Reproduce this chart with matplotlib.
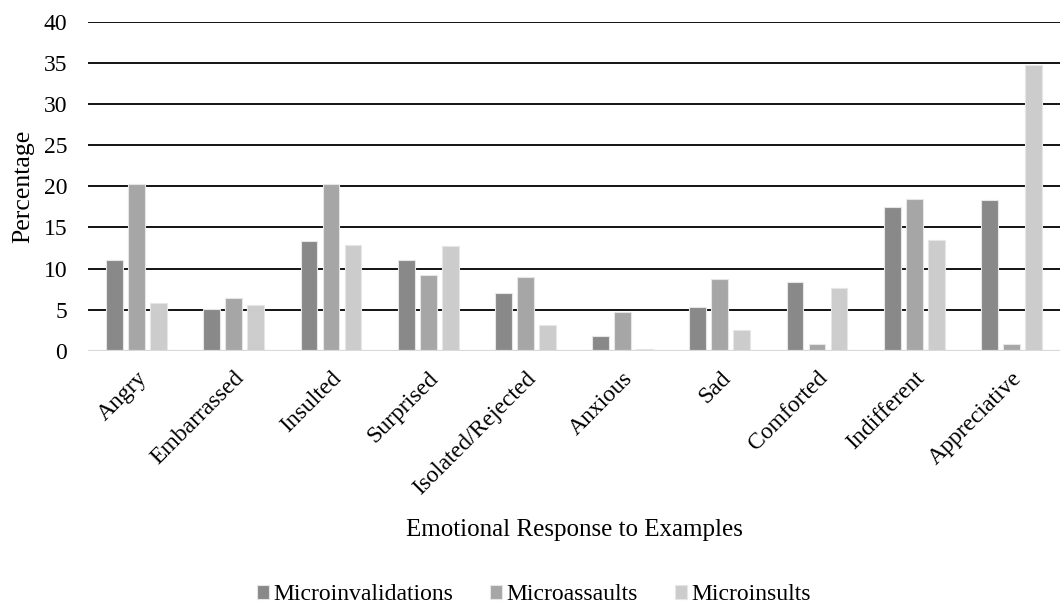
import matplotlib.pyplot as plt
import numpy as np

plt.rcParams['font.family'] = ['Liberation Serif', 'DejaVu Serif']

categories = ['Angry', 'Embarrassed', 'Insulted', 'Surprised', 'Isolated/Rejected',
              'Anxious', 'Sad', 'Comforted', 'Indifferent', 'Appreciative']
microinvalidations = [11.1, 5.1, 13.4, 11.1, 7.0, 1.8, 5.4, 8.4, 17.5, 18.3]
microassaults = [20.3, 6.4, 20.3, 9.2, 9.0, 4.7, 8.8, 0.9, 18.5, 0.9]
microinsults = [5.8, 5.6, 12.9, 12.7, 3.2, 0.3, 2.6, 7.7, 13.5, 34.7]
series_names = ['Microinvalidations', 'Microassaults', 'Microinsults']
colors = ['#898989', '#a6a6a6', '#cccccc']

fig = plt.figure(figsize=(10.61, 6.14), dpi=100)
ax = fig.add_axes([88 / 1061, 1 - 351 / 614, (1060 - 88) / 1061, (351 - 21.5) / 614])

x = np.arange(len(categories))
w = 0.172
step = 0.226
for i, (vals, name) in enumerate(zip([microinvalidations, microassaults, microinsults], series_names)):
    ax.bar(x + (i - 1) * step, vals, width=w, color=colors[i], label=name,
           edgecolor='#e6e6e6', linewidth=0.8, zorder=3)

ax.set_ylim(0, 40)
ax.set_xlim(-0.5, 9.5)
ax.set_yticks(range(0, 41, 5))
for yv in range(5, 41, 5):
    ax.axhline(yv, color='black', linewidth=1.3, zorder=1)
ax.axhline(0, color='#d9d9d9', linewidth=1.6, zorder=4)
for s in ax.spines.values():
    s.set_visible(False)
ax.tick_params(axis='both', length=0, labelsize=17)
ax.tick_params(axis='y', pad=15)
ax.tick_params(axis='x', pad=12)
ax.set_xticks(x)
ax.set_xticklabels(categories, rotation=45, ha='right', va='top', rotation_mode='anchor')

fig.text(23 / 1061, 1 - 186 / 614, 'Percentage', fontsize=18.5, rotation=90,
         ha='center', va='center')
fig.text(574 / 1061, 1 - 530 / 614, 'Emotional Response to Examples', fontsize=18,
         ha='center', va='center')
fig.legend(loc='center', bbox_to_anchor=(534 / 1061, 1 - 595 / 614), ncol=3,
           frameon=False, fontsize=17, handlelength=0.5, handleheight=0.5,
           handletextpad=0.2, columnspacing=1.55, borderpad=0)

fig.savefig('out.png', dpi=100)
